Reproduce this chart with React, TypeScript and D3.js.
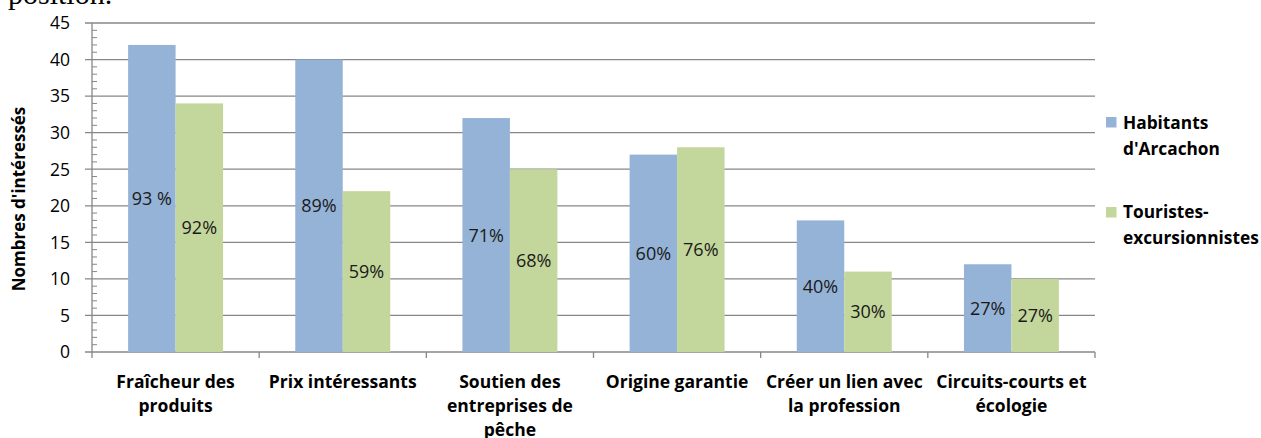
import React from "react";
import * as d3 from "d3";

const categories: string[][] = [
  ["Fraîcheur des", "produits"],
  ["Prix intéressants"],
  ["Soutien des", "entreprises de", "pêche"],
  ["Origine garantie"],
  ["Créer un lien avec", "la profession"],
  ["Circuits-courts et", "écologie"],
];
const habitants = [42, 40, 32, 27, 18, 12];
const touristes = [34, 22, 25, 28, 11, 10];
const habitantsPct = ["93 %", "89%", "71%", "60%", "40%", "27%"];
const touristesPct = ["92%", "59%", "68%", "76%", "30%", "27%"];
const yTicks = [0, 5, 10, 15, 20, 25, 30, 35, 40, 45];
const seriesNames: string[][] = [["Habitants", "d'Arcachon"], ["Touristes-", "excursionnistes"]];
const colors = ["#95B3D7", "#C3D69B"];

const W = 1261, H = 438;
const left = 92, right = 1095, top = 23, bottom = 352;
const FONT = "'Open Sans', sans-serif";

export default function App() {
  const x = d3.scaleBand<number>().domain(d3.range(categories.length)).range([left, right]).paddingInner(0).paddingOuter(0);
  const y = d3.scaleLinear().domain([0, 45]).range([bottom, top]);
  const bw = x.bandwidth();
  const barW = bw * 0.284;
  const minor = d3.range(0, 46).filter((v) => v % 5 !== 0);
  const series = [habitants, touristes];
  const pcts = [habitantsPct, touristesPct];
  const axisColor = "#878787";
  return (
    <svg width={W} height={H} style={{ position: "absolute", left: 0, top: 0, background: "#fff" }} fontFamily={FONT}>
      <text x={8} y={4} fontFamily="'Liberation Serif', 'Times New Roman', serif" fontSize={30} fill="#000">position.</text>
      {yTicks.map((t) => (
        <g key={t}>
          <line x1={left - 7} x2={right} y1={y(t)} y2={y(t)} stroke={axisColor} strokeWidth={1.3} />
          <text x={70} y={y(t)} dy="0.36em" textAnchor="end" fontSize={17.5} fill="#000">{t}</text>
        </g>
      ))}
      {minor.map((t) => (
        <line key={"m" + t} x1={left} x2={left + 5} y1={y(t)} y2={y(t)} stroke={axisColor} strokeWidth={1} />
      ))}
      <line x1={left} x2={left} y1={top} y2={bottom} stroke={axisColor} strokeWidth={1.3} />
      {d3.range(categories.length + 1).map((i) => {
        const xx = i < categories.length ? x(i)! : right;
        return <line key={"xt" + i} x1={xx} x2={xx} y1={bottom} y2={bottom + 6} stroke={axisColor} strokeWidth={1.3} />;
      })}
      {categories.map((c, i) => {
        const cx = x(i)! + bw / 2;
        return (
          <g key={"c" + i}>
            {series.map((s, k) => {
              const bx = cx - barW + k * barW;
              return (
                <g key={k}>
                  <rect x={bx} y={y(s[i])} width={barW} height={bottom - y(s[i])} fill={colors[k]} />
                  <text x={bx + barW / 2} y={(y(s[i]) + bottom) / 2} dy="0.36em" textAnchor="middle" fontSize={18} fill="#1a1a1a">{pcts[k][i]}</text>
                </g>
              );
            })}
            {c.map((line, j) => (
              <text key={j} x={cx} y={381.5 + j * 24.3} dy="0.36em" textAnchor="middle" fontSize={17.5} fontWeight="bold" fill="#000">{line}</text>
            ))}
          </g>
        );
      })}
      <text transform={`translate(18.5,199) rotate(-90)`} textAnchor="middle" dy="0.36em" fontSize={17} fontWeight="bold" fill="#000">Nombres d'intéressés</text>
      {seriesNames.map((n, k) => (
        <g key={"l" + k}>
          <rect x={1106} y={117 + k * 90} width={10.5} height={10.5} fill={colors[k]} />
          {n.map((line, j) => (
            <text key={j} x={1123} y={128.5 + k * 89 + j * 26.5} fontSize={17.3} fontWeight="bold" fill="#000">{line}</text>
          ))}
        </g>
      ))}
    </svg>
  );
}
